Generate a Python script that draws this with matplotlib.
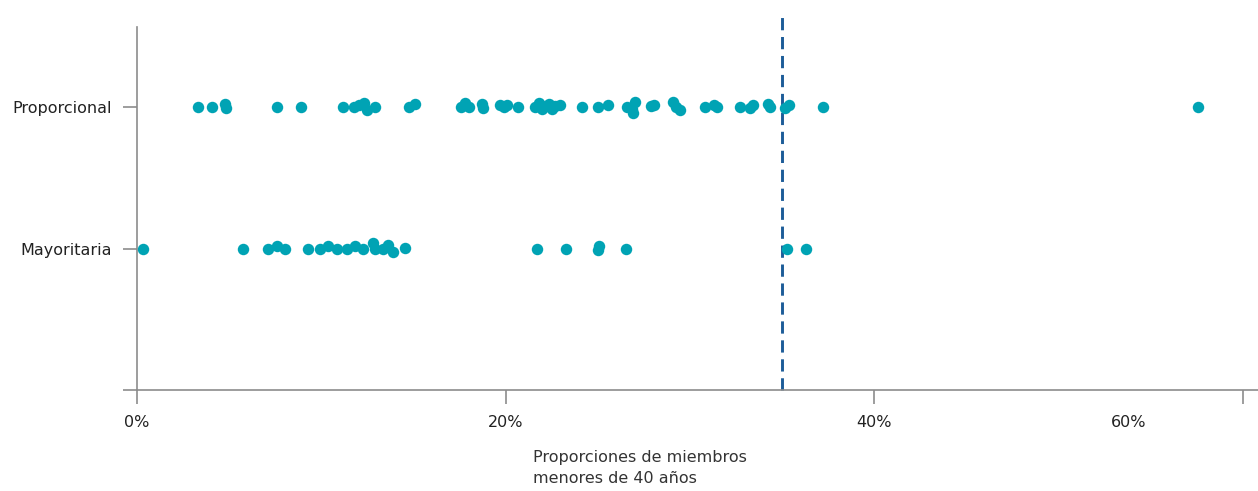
import numpy as np
import matplotlib.pyplot as plt

# porcentaje de miembros menores de 40 años, por sistema electoral
categorias = ['Proporcional', 'Mayoritaria']
proporcional = [3.31, 4.07, 4.77, 4.83, 7.60, 8.90, 11.18, 11.77, 12.05, 12.32,
                12.48, 12.91, 14.76, 15.08, 17.58, 17.80, 18.01, 18.72, 18.77, 19.70,
                19.91, 20.08, 20.67, 21.60, 21.81, 21.97, 22.19, 22.35, 22.52, 22.68,
                22.95, 24.15, 25.01, 25.56, 26.59, 26.86, 27.02, 26.91, 27.89, 28.05,
                29.08, 29.25, 29.46, 30.82, 31.31, 31.47, 32.72, 33.26, 33.42, 34.24,
                34.35, 35.16, 35.38, 37.22, 57.57]
jit_prop = [0, 0, -3, 1, 0, 0, 0, 0, -2, -4,
            3, 0, 0, -3, 0, -4, 0, -3, 1, -2,
            0, -2, 0, 0, -4, 2, -1, -3, 2, -1,
            -2, 0, 0, -2, 0, 2, -5, 6, -1, -2,
            -5, 0, 3, 0, -2, 0, 0, 1, -2, -3,
            0, 1, -2, 0, 0]
mayoritaria = [0.34, 5.74, 7.12, 7.58, 8.03, 9.26, 9.93, 10.38, 10.84, 11.38,
               11.83, 12.28, 12.82, 12.91, 13.36, 13.64, 13.91, 14.54, 21.69, 23.26,
               24.99, 25.07, 26.53, 35.25, 36.30]
jit_may = [0, 0, 0, -3, 0, 0, 0, -3, 0, 0,
           -3, 0, -6, 0, 0, -4, 3, -1, 0, 0,
           1, -3, 0, 0, 0]
umbral = 35.0
xticks = [0, 20, 40, 60]
xticklabels = ['0%', '20%', '40%', '']
pos_60 = 53.8  # en el original la etiqueta 60% esta desplazada de su marca

dot = '#00a3b4'
gris = '#8c8c8c'
plt.rcParams['font.family'] = ['DejaVu Sans']

fig = plt.figure(figsize=(12.58, 4.91), dpi=100)
ax = fig.add_axes([137/1258, 1-390/491, (1258-137)/1258, (390-27)/491])

px = 1/141  # un pixel en unidades del eje y
ax.scatter(proporcional, 0 + np.array(jit_prop)*px, s=68, color=dot, lw=0, clip_on=False, zorder=3)
ax.scatter(mayoritaria, 1 + np.array(jit_may)*px, s=68, color=dot, lw=0, clip_on=False, zorder=3)

ax.axvline(umbral, ymin=0, ymax=1.033, color='#1c5c98', lw=2.1, ls=(0, (4.2, 2.3)), clip_on=False, zorder=2)

ax.set_xlim(0, 60.82)
ax.set_ylim(2, -0.567)
ax.set_yticks([0, 1, 2])
ax.set_yticklabels(categorias + [''])
ax.set_xticks(xticks)
ax.set_xticklabels(xticklabels)
ax.annotate('60%', xy=(pos_60, 0), xycoords=('data', 'axes fraction'),
            xytext=(0, -18), textcoords='offset points',
            ha='center', va='top', fontsize=11.5, color='#222222')

for s in ['top', 'right']:
    ax.spines[s].set_visible(False)
for s in ['left', 'bottom']:
    ax.spines[s].set_color(gris)
    ax.spines[s].set_linewidth(1.2)
ax.tick_params(axis='both', length=10, width=1.2, color=gris, labelsize=11.5, labelcolor='#222222', pad=8)

fig.text(533/1258, 1-450/491, 'Proporciones de miembros\nmenores de 40 años', ha='left', va='top',
         fontsize=11.5, color='#333333', linespacing=1.5)

fig.savefig('out.png', dpi=100)
